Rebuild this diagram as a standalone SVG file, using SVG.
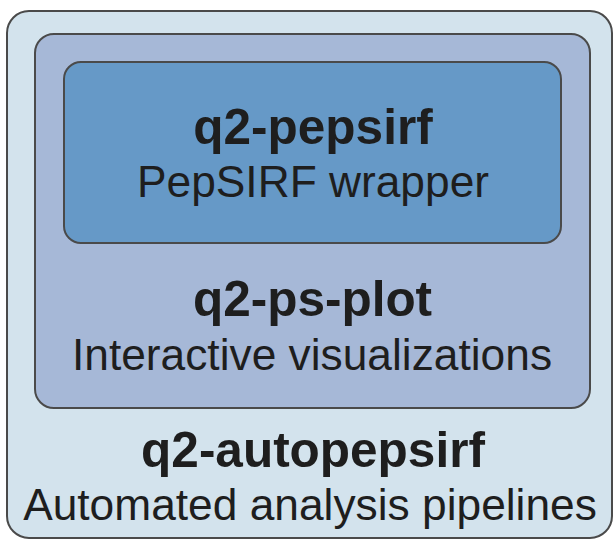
<svg xmlns="http://www.w3.org/2000/svg" width="613" height="539" viewBox="0 0 613 539">
<style>
.box{stroke:#4a4a4a;stroke-width:2}
.t{font-family:"Liberation Sans",Arial,sans-serif;fill:#1e1e1e;text-anchor:middle}
.b{font-weight:bold;font-size:49.5px}
.r{font-size:44.3px}
</style>
<rect width="613" height="539" fill="#ffffff"/>
<g id="q2-autopepsirf">
<rect class="box" x="7" y="11" width="605" height="527" rx="22" fill="#d3e3ed"/>
<text class="t b" x="313" y="467">q2-autopepsirf</text>
<text class="t r" x="310" y="520">Automated analysis pipelines</text>
</g>
<g id="q2-ps-plot">
<rect class="box" x="35" y="34" width="555" height="374" rx="19" fill="#a6b8d7"/>
<text class="t b" x="312.5" y="316">q2-ps-plot</text>
<text class="t r" x="312" y="370">Interactive visualizations</text>
</g>
<g id="q2-pepsirf">
<rect class="box" x="64" y="62" width="497" height="181" rx="17" fill="#6699c7"/>
<text class="t b" x="313" y="144">q2-pepsirf</text>
<text class="t r" x="313" y="197">PepSIRF wrapper</text>
</g>
<g id="connectors"/>
</svg>
